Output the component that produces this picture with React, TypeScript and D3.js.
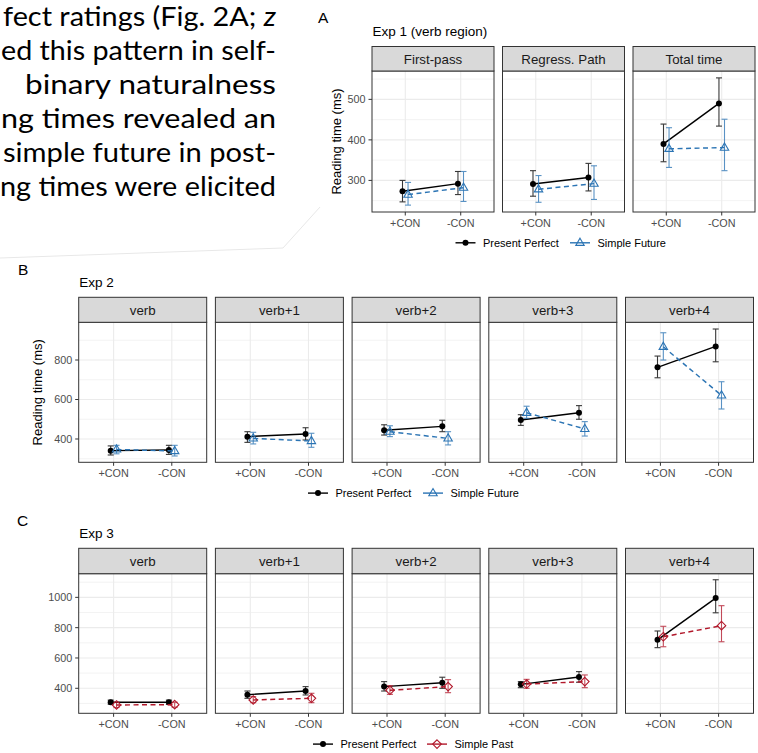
import React from "react";
import * as d3 from "d3";

const W = 758;
const H = 753;

// ---- data ----
const conditions = ["+CON", "-CON"];

const exp1Regions = ["First-pass", "Regress. Path", "Total time"];
const exp1PerfectMean = [[273, 292], [291, 307], [390, 490]];
const exp1PerfectLow = [[247, 265], [261, 274], [346, 434]];
const exp1PerfectHigh = [[300, 322], [324, 342], [439, 553]];
const exp1FutureMean = [[265, 282], [278, 292], [378, 381]];
const exp1FutureLow = [[239, 248], [246, 253], [332, 324]];
const exp1FutureHigh = [[295, 322], [312, 336], [430, 451]];

const exp2Regions = ["verb", "verb+1", "verb+2", "verb+3", "verb+4"];
const exp2PerfectMean = [[341, 344], [412, 425], [444, 464], [496, 533], [763, 869]];
const exp2PerfectLow = [[319, 322], [383, 395], [420, 437], [469, 500], [710, 791]];
const exp2PerfectHigh = [[365, 368], [437, 457], [472, 495], [523, 569], [820, 957]];
const exp2FutureMean = [[347, 339], [403, 390], [437, 403], [533, 451], [867, 621]];
const exp2FutureLow = [[325, 314], [375, 358], [412, 370], [505, 415], [800, 552]];
const exp2FutureHigh = [[368, 368], [434, 429], [467, 437], [566, 488], [938, 690]];

const exp3Regions = ["verb", "verb+1", "verb+2", "verb+3", "verb+4"];
const exp3PerfectMean = [[308, 308], [358, 382], [411, 437], [426, 475], [720, 995]];
const exp3PerfectLow = [[295, 294], [334, 356], [382, 400], [404, 440], [668, 898]];
const exp3PerfectHigh = [[322, 322], [382, 411], [444, 473], [444, 510], [778, 1116]];
const exp3PastMean = [[290, 292], [323, 334], [387, 411], [428, 444], [740, 813]];
const exp3PastLow = [[273, 275], [305, 305], [360, 371], [400, 404], [674, 707]];
const exp3PastHigh = [[307, 308], [345, 367], [417, 457], [459, 488], [809, 945]];

const exp1Ticks = [300, 400, 500];
const exp2Ticks = [400, 600, 800];
const exp3Ticks = [400, 600, 800, 1000];

const paragraphLines = [
  "fect ratings (Fig. 2A; ",
  "ed this pattern in self-",
  "binary   naturalness",
  "ng times revealed an",
  "simple future in post-",
  "ng times were elicited",
];

// ---- styles ----
const FONT = "'Liberation Sans', Arial, Helvetica, sans-serif";
const BLUE = "#2b74b4";
const RED = "#b2182b";
const BLACK = "#000000";
const GRID = "#ebebeb";
const BORDER = "#333333";

function Marker({ shape, cx, cy, color }) {
  if (shape === "circle") return <circle cx={cx} cy={cy} r={3} fill={color} />;
  if (shape === "triangle") {
    const s = 4.2;
    const d = `M${cx},${cy - s * 1.1}L${cx + s},${cy + s * 0.62}L${cx - s},${cy + s * 0.62}Z`;
    return <path d={d} fill="none" stroke={color} strokeWidth={1.1} />;
  }
  const s = 4.3;
  const d = `M${cx},${cy - s}L${cx + s},${cy}L${cx},${cy + s}L${cx - s},${cy}Z`;
  return <path d={d} fill="none" stroke={color} strokeWidth={1.1} />;
}

function FacetRow({ regions, series, lay }) {
  const y = d3.scaleLinear().domain(lay.domain).range([lay.bottom, lay.top + lay.stripH]);
  const ticks = lay.ticks;
  const half = (ticks[1] - ticks[0]) / 2;
  const minor = ticks.map((t) => t - half)
    .concat([ticks[ticks.length - 1] + half])
    .filter((v) => v > lay.domain[0] && v < lay.domain[1]);
  const panelTop = lay.top + lay.stripH;

  return (
    <g>
      {regions.map((reg, i) => {
        const px = lay.x0 + i * lay.step;
        const x = d3.scalePoint().domain(conditions).range([px, px + lay.pw]).padding(0.6);
        const dodge = x.step() * 0.05;
        return (
          <g key={reg}>
            <rect x={px} y={panelTop} width={lay.pw} height={lay.bottom - panelTop} fill="white" />
            {minor.map((v) => (
              <line key={"mi" + v} x1={px} x2={px + lay.pw} y1={y(v)} y2={y(v)} stroke={GRID} strokeWidth={0.6} />
            ))}
            {ticks.map((v) => (
              <line key={"ma" + v} x1={px} x2={px + lay.pw} y1={y(v)} y2={y(v)} stroke={GRID} strokeWidth={1.1} />
            ))}
            {conditions.map((c) => (
              <line key={"v" + c} x1={x(c)} x2={x(c)} y1={panelTop} y2={lay.bottom} stroke={GRID} strokeWidth={1.1} />
            ))}
            {series.map((s, si) => {
              const off = si === 0 ? -dodge : dodge;
              const line = d3.line().x((d) => d[0]).y((d) => d[1]);
              const pts = conditions.map((c, ci) => [x(c) + off, y(s.mean[i][ci])]);
              return (
                <g key={s.name}>
                  <path d={line(pts)} fill="none" stroke={s.color} strokeWidth={1.45}
                    strokeDasharray={s.dash ? "5,3.5" : undefined} />
                  {conditions.map((c, ci) => {
                    const cx = x(c) + off;
                    const lo = y(s.low[i][ci]);
                    const hi = y(s.high[i][ci]);
                    return (
                      <g key={c} stroke={s.color} strokeWidth={1.1} opacity={0.78}>
                        <line x1={cx} x2={cx} y1={lo} y2={hi} />
                        <line x1={cx - 3} x2={cx + 3} y1={lo} y2={lo} />
                        <line x1={cx - 3} x2={cx + 3} y1={hi} y2={hi} />
                      </g>
                    );
                  })}
                  {conditions.map((c, ci) => (
                    <Marker key={"m" + c} shape={s.shape} cx={x(c) + off} cy={y(s.mean[i][ci])} color={s.color} />
                  ))}
                </g>
              );
            })}
            <rect x={px} y={panelTop} width={lay.pw} height={lay.bottom - panelTop} fill="none" stroke={BORDER} strokeWidth={1} />
            <rect x={px} y={lay.top} width={lay.pw} height={lay.stripH} fill="#d9d9d9" stroke={BORDER} strokeWidth={1} />
            <text x={px + lay.pw / 2} y={lay.top + lay.stripH / 2} dy="0.36em" textAnchor="middle"
              fontSize={13.3} fill="#1a1a1a">{reg}</text>
            {conditions.map((c) => (
              <g key={"xt" + c}>
                <line x1={x(c)} x2={x(c)} y1={lay.bottom} y2={lay.bottom + 3.5} stroke={BORDER} strokeWidth={1} />
                <text x={x(c)} y={lay.bottom + 15} textAnchor="middle" fontSize={10.8} fill="#4d4d4d">{c}</text>
              </g>
            ))}
          </g>
        );
      })}
      {ticks.map((v) => (
        <g key={"yt" + v}>
          <line x1={lay.x0 - 3.5} x2={lay.x0} y1={y(v)} y2={y(v)} stroke={BORDER} strokeWidth={1} />
          <text x={lay.x0 - 6.5} y={y(v)} dy="0.36em" textAnchor="end" fontSize={10.8} fill="#4d4d4d">{v}</text>
        </g>
      ))}
      {lay.yTitle && (
        <text transform={`translate(${lay.yTitleX},${(panelTop + lay.bottom) / 2}) rotate(-90)`}
          dy="0.36em" textAnchor="middle" fontSize={13} fill="#000">{lay.yTitle}</text>
      )}
      <text x={lay.x0 + 0.5} y={lay.titleY} fontSize={13.5} fill="#000">{lay.title}</text>
      <text x={lay.letterX} y={lay.letterY} fontSize={15.5} fill="#000">{lay.letter}</text>
      {series.map((s, si) => {
        const kx = lay.legendX[si];
        const ky = lay.bottom + 30.8;
        return (
          <g key={"lg" + s.name}>
            <line x1={kx - 10} x2={kx + 10} y1={ky} y2={ky} stroke={s.color} strokeWidth={1.4} />
            <Marker shape={s.shape} cx={kx} cy={ky} color={s.color} />
            <text x={kx + 17.5} y={ky} dy="0.36em" fontSize={11} fill="#000">{s.name}</text>
          </g>
        );
      })}
    </g>
  );
}

export default function App() {
  const rowA = {
    x0: 372, step: 130.5, pw: 122, top: 46.5, stripH: 24.5, bottom: 212,
    domain: [222, 570], ticks: exp1Ticks, yTitle: "Reading time (ms)", yTitleX: 336.5,
    title: "Exp 1 (verb region)", titleY: 36, letter: "A", letterX: 318, letterY: 23,
    legendX: [465.5, 580],
  };
  const rowB = {
    x0: 78.7, step: 136.7, pw: 128, top: 297.3, stripH: 25, bottom: 462.3,
    domain: [282, 991], ticks: exp2Ticks, yTitle: "Reading time (ms)", yTitleX: 37,
    title: "Exp 2", titleY: 287, letter: "B", letterX: 18, letterY: 275,
    legendX: [318, 433],
  };
  const rowC = {
    x0: 78.7, step: 136.7, pw: 128, top: 548.3, stripH: 25.4, bottom: 713.3,
    domain: [235, 1156], ticks: exp3Ticks, yTitle: null, yTitleX: 0,
    title: "Exp 3", titleY: 538, letter: "C", letterX: 17, letterY: 526,
    legendX: [323, 437],
  };

  const seriesA = [
    { name: "Present Perfect", mean: exp1PerfectMean, low: exp1PerfectLow, high: exp1PerfectHigh, color: BLACK, dash: false, shape: "circle" },
    { name: "Simple Future", mean: exp1FutureMean, low: exp1FutureLow, high: exp1FutureHigh, color: BLUE, dash: true, shape: "triangle" },
  ];
  const seriesB = [
    { name: "Present Perfect", mean: exp2PerfectMean, low: exp2PerfectLow, high: exp2PerfectHigh, color: BLACK, dash: false, shape: "circle" },
    { name: "Simple Future", mean: exp2FutureMean, low: exp2FutureLow, high: exp2FutureHigh, color: BLUE, dash: true, shape: "triangle" },
  ];
  const seriesC = [
    { name: "Present Perfect", mean: exp3PerfectMean, low: exp3PerfectLow, high: exp3PerfectHigh, color: BLACK, dash: false, shape: "circle" },
    { name: "Simple Past", mean: exp3PastMean, low: exp3PastLow, high: exp3PastHigh, color: RED, dash: true, shape: "diamond" },
  ];

  // paragraph line layout (left edge, shared right edge, baselines)
  const lineStarts = [3, 1, 25, 1, 3, 0];
  const lineRight = 276;
  const baseline = d3.scaleLinear().domain([0, 5]).range([25.5, 195.5]);

  return (
    <svg width={W} height={H} style={{ position: "absolute", left: 0, top: 0, background: "white" }}
      fontFamily={FONT}>
      <rect width={W} height={H} fill="white" />
      <polyline points="0,258 283,248 320,207" fill="none" stroke="#e8e8e8" strokeWidth={1} />
      <g fontFamily="Lato, 'Open Sans', sans-serif" fontSize={26.5} fill="#000">
        {paragraphLines.map((t, i) => (
          <text key={i} x={lineStarts[i]} y={baseline(i)} textLength={lineRight - lineStarts[i]}
            lengthAdjust="spacingAndGlyphs">
            {t}
            {i === 0 && <tspan fontStyle="italic">z</tspan>}
          </text>
        ))}
      </g>
      <FacetRow regions={exp1Regions} series={seriesA} lay={rowA} />
      <FacetRow regions={exp2Regions} series={seriesB} lay={rowB} />
      <FacetRow regions={exp3Regions} series={seriesC} lay={rowC} />
    </svg>
  );
}
